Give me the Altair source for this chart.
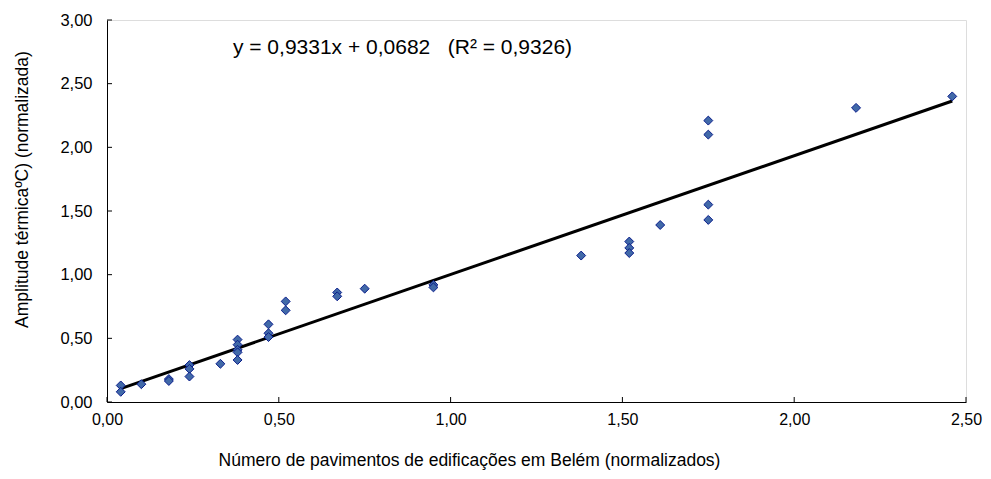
import altair as alt
import pandas as pd

# Data
pav_x = [0.04, 0.04, 0.10, 0.18, 0.18, 0.24, 0.24, 0.24, 0.33, 0.38, 0.38, 0.38, 0.38, 0.38,
         0.47, 0.47, 0.47, 0.52, 0.52, 0.67, 0.67, 0.75, 0.95, 0.95, 1.38, 1.52, 1.52, 1.52,
         1.61, 1.75, 1.75, 1.75, 1.75, 2.18, 2.46]
amp_y = [0.13, 0.08, 0.14, 0.18, 0.165, 0.29, 0.26, 0.20, 0.30, 0.49, 0.45, 0.41, 0.39, 0.33,
         0.61, 0.54, 0.51, 0.79, 0.72, 0.86, 0.83, 0.89, 0.92, 0.90, 1.15, 1.26, 1.21, 1.17,
         1.39, 2.21, 2.10, 1.55, 1.43, 2.31, 2.40]
slope = 0.9331
intercept = 0.0682
equation = "y = 0,9331x + 0,0682\u00a0\u00a0\u00a0(R² = 0,9326)"
x_ticks = [0.0, 0.5, 1.0, 1.5, 2.0, 2.5]
y_ticks = [0.0, 0.5, 1.0, 1.5, 2.0, 2.5, 3.0]
x_title = "Número de pavimentos de edificações em Belém (normalizados)"
y_title = "Amplitude térmicaºC) (normalizada)"

W, H = 859, 382
FONT = "Liberation Sans"

pts = pd.DataFrame({"x": pav_x, "y": amp_y})
line_x = [min(pav_x), max(pav_x)]
line_df = pd.DataFrame({"x": line_x, "y": [slope * v + intercept for v in line_x]})
xt = pd.DataFrame({"t": x_ticks})
yt = pd.DataFrame({"t": y_ticks})

fmt = "replace(format(datum.value, '.2f'), '.', ',')"
xscale = alt.Scale(domain=[0, 2.5], nice=False, zero=False)
yscale = alt.Scale(domain=[0, 3], nice=False, zero=False)

xaxis = alt.Axis(values=x_ticks, labelExpr=fmt, grid=False, ticks=False, labelFlush=False,
                 labelOverlap=False,
                 domainColor="#000000", domainWidth=1, labelFontSize=16, labelFont=FONT,
                 labelColor="#000000", labelPadding=9, title=x_title, titleFont=FONT,
                 titleFontSize=17.5, titleFontWeight="normal", titleColor="#000000",
                 titleX=362, titleY=58, titleAnchor="middle", titleAlign="center",
                 titleBaseline="middle")
yaxis = alt.Axis(values=y_ticks, labelExpr=fmt, grid=False, ticks=False, labelFlush=False,
                 labelOverlap=False,
                 domainColor="#000000", domainWidth=1, labelFontSize=16.5, labelFont=FONT,
                 labelColor="#000000", labelPadding=15, title=y_title, titleFont=FONT,
                 titleFontSize=17.5, titleFontWeight="normal", titleColor="#000000",
                 titleAngle=-90, titleX=-85, titleY=169, titleAlign="center",
                 titleBaseline="middle", titleAnchor="middle")

points = alt.Chart(pts).mark_point(shape="diamond", filled=True, fill="#4169A8",
                                   stroke="#0A1E8C", strokeWidth=1, size=80, opacity=1).encode(
    x=alt.X("x:Q", scale=xscale, axis=xaxis),
    y=alt.Y("y:Q", scale=yscale, axis=yaxis),
)

fit = alt.Chart(line_df).mark_line(color="#000000", strokeWidth=3).encode(
    x=alt.X("x:Q", scale=xscale),
    y=alt.Y("y:Q", scale=yscale),
)

xtick = alt.Chart(xt).mark_rule(color="#000000", strokeWidth=1).encode(
    x=alt.X("t:Q", scale=xscale),
    y=alt.value(H), y2=alt.value(H - 5),
)
ytick = alt.Chart(yt).mark_rule(color="#000000", strokeWidth=1).encode(
    y=alt.Y("t:Q", scale=yscale),
    x=alt.value(0), x2=alt.value(5),
)

label = alt.Chart(pd.DataFrame({"x": [0.86], "y": [2.78], "t": [equation]})).mark_text(
    font=FONT, fontSize=21, color="#000000", align="center", baseline="middle").encode(
    x=alt.X("x:Q", scale=xscale),
    y=alt.Y("y:Q", scale=yscale),
    text="t:N",
)

chart = alt.layer(fit, points, xtick, ytick, label).properties(
    width=W, height=H,
    autosize=alt.AutoSizeParams(type="none"),
    padding={"left": 99, "top": 12, "right": 17, "bottom": 69},
).configure_view(stroke=None).configure(background="#ffffff")

chart.save("out.html", embed_options={"renderer": "svg", "actions": False})
